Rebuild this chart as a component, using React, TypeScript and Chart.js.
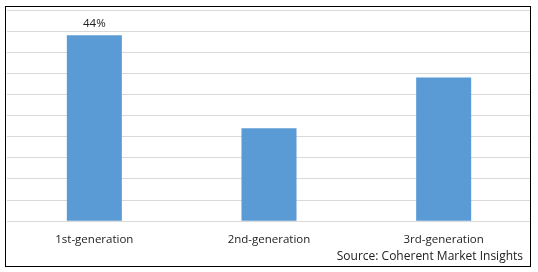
import React, { useEffect, useRef } from "react";
import { Chart, registerables } from "chart.js";

Chart.register(...registerables);

const categories = ["1st-generation", "2nd-generation", "3rd-generation"];
const shares = [44, 22, 34];
const valueLabels = ["44%", "", ""];
const sourceText = "Source: Coherent Market Insights";

const FONT = "'Open Sans', 'DejaVu Sans', sans-serif";

const decorPlugin = {
  id: "decor",
  afterDatasetsDraw(chart: any) {
    const ctx = chart.ctx;
    const meta = chart.getDatasetMeta(0);
    ctx.save();
    ctx.font = `11.5px ${FONT}`;
    ctx.fillStyle = "#222";
    ctx.textAlign = "center";
    ctx.textBaseline = "middle";
    meta.data.forEach((bar: any, i: number) => {
      if (valueLabels[i]) ctx.fillText(valueLabels[i], bar.x, bar.y - 12);
    });
    ctx.font = `12px ${FONT}`;
    ctx.textAlign = "right";
    ctx.fillText(sourceText, 523, 257);
    ctx.strokeStyle = "#000";
    ctx.lineWidth = 1;
    ctx.strokeRect(5.5, 6.5, 525, 260);
    ctx.restore();
  },
};

export default function App() {
  const ref = useRef<HTMLCanvasElement>(null);
  useEffect(() => {
    const chart = new Chart(ref.current!, {
      type: "bar",
      data: {
        labels: categories,
        datasets: [
          {
            data: shares,
            backgroundColor: "#5B9BD5",
            barPercentage: 0.315,
            categoryPercentage: 1,
          },
        ],
      },
      options: {
        animation: false,
        responsive: false,
        layout: { padding: { left: 7, right: 7, top: 10, bottom: 13 } },
        plugins: { legend: { display: false }, tooltip: { enabled: false } },
        scales: {
          x: {
            grid: { display: false, drawTicks: false },
            border: { display: false },
            ticks: { font: { family: FONT, size: 11.5 }, color: "#222", padding: 12 },
          },
          y: {
            min: 0,
            max: 50,
            ticks: { display: false, stepSize: 5 },
            border: { display: false },
            grid: { color: "#d9d9d9", drawTicks: false },
          },
        },
      },
      plugins: [decorPlugin],
    });
    return () => chart.destroy();
  }, []);
  return (
    <div style={{ position: "absolute", left: 0, top: 0, width: 538, height: 272, background: "#fff" }}>
      <canvas ref={ref} width={538} height={272} style={{ display: "block" }} />
    </div>
  );
}
